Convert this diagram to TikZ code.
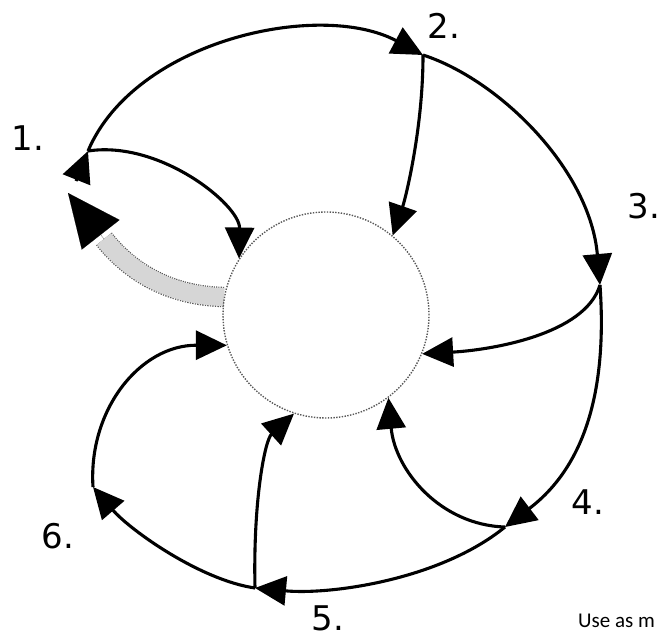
\documentclass[tikz,border=0pt]{standalone}
\usepackage{fontspec}
\setmainfont{DejaVu Sans}
\newfontfamily\notefont{Carlito}
\usetikzlibrary{arrows.meta,backgrounds}
\tikzset{
  hubnode/.style={
    circle, draw=black!65, line width=1.4pt, dash pattern=on 1.4pt off 1.4pt,
    minimum size=206pt, inner sep=0pt
  },
  arcline/.style={-{Triangle[length=31pt,width=29pt]}, line width=3.1pt, draw=black},
  returnband/.style={
    draw=gray!32, line width=18pt,
    preaction={draw=black!65, line width=20.4pt, dash pattern=on 1.2pt off 1.2pt}
  },
  returntip/.style={-{Triangle[length=53pt,width=48pt]}, line width=0.1pt, draw=black},
  steplabel/.style={font=\fontsize{34}{34}\selectfont, inner sep=0pt},
  notelabel/.style={font=\notefont\fontsize{21}{21}\selectfont, inner sep=0pt, anchor=base west},
}

\begin{document}
\begin{tikzpicture}[x=1pt, y=-1pt]
  \useasboundingbox (0,0) rectangle (660,639);
  \node (hub) [hubnode] at (326,315) {};
  % junctions on the outer ring
  \coordinate (j1) at (88,151);
  \coordinate (j2) at (423,55);
  \coordinate (j3) at (600,285);
  \coordinate (j4) at (505,527);
  \coordinate (j5) at (255,588);
  \coordinate (j6) at (93,487);
  \coordinate (q1) at (76,181);
  \coordinate (g1) at (104,239);
  \coordinate (g2) at (68,193);
  % labels
  \node (l1) [steplabel] at (28,138) {1.};
  \node (l2) [steplabel] at (444,26) {2.};
  \node (l3) [steplabel] at (644,206) {3.};
  \node (l4) [steplabel] at (588,502) {4.};
  \node (l5) [steplabel] at (328,618) {5.};
  \node (l6) [steplabel] at (58,536) {6.};
  \node (note) [notelabel] at (578,627) {Use as m};
  % outer ring
  \draw[arcline] (j1) .. controls (135,40) and (320,0) .. (j2);
  \draw[arcline] (j2) .. controls (500,80) and (590,170) .. (j3);
  \draw[arcline] (j3) .. controls (608,400) and (580,470) .. (j4);
  \draw[arcline] (j4) .. controls (440,580) and (330,595) .. (j5);
  \draw[arcline] (j5) .. controls (200,580) and (130,530) .. (j6);
  % spokes into the hub
  \draw[arcline] (j1) .. controls (160,140) and (240,205) .. (hub.147);
  \draw[arcline] (j2) .. controls (423,130) and (405,200) .. (hub.50);
  \draw[arcline] (j3) .. controls (585,335) and (490,350) .. (hub.-22);
  \draw[arcline] (j4) .. controls (440,525) and (395,470) .. (hub.-53);
  \draw[arcline] (j5) .. controls (253,500) and (265,440) .. (hub.-108);
  \draw[arcline] (j6) .. controls (88,410) and (140,345) .. (hub.-163);
  % return path
  \begin{scope}[on background layer]
    \draw[returnband] (hub.170) .. controls (170,296) and (130,272) .. (g1);
  \end{scope}
  \draw[returntip] (g1) -- (g2);
  \draw[arcline] (q1) -- (j1);
\end{tikzpicture}
\end{document}
